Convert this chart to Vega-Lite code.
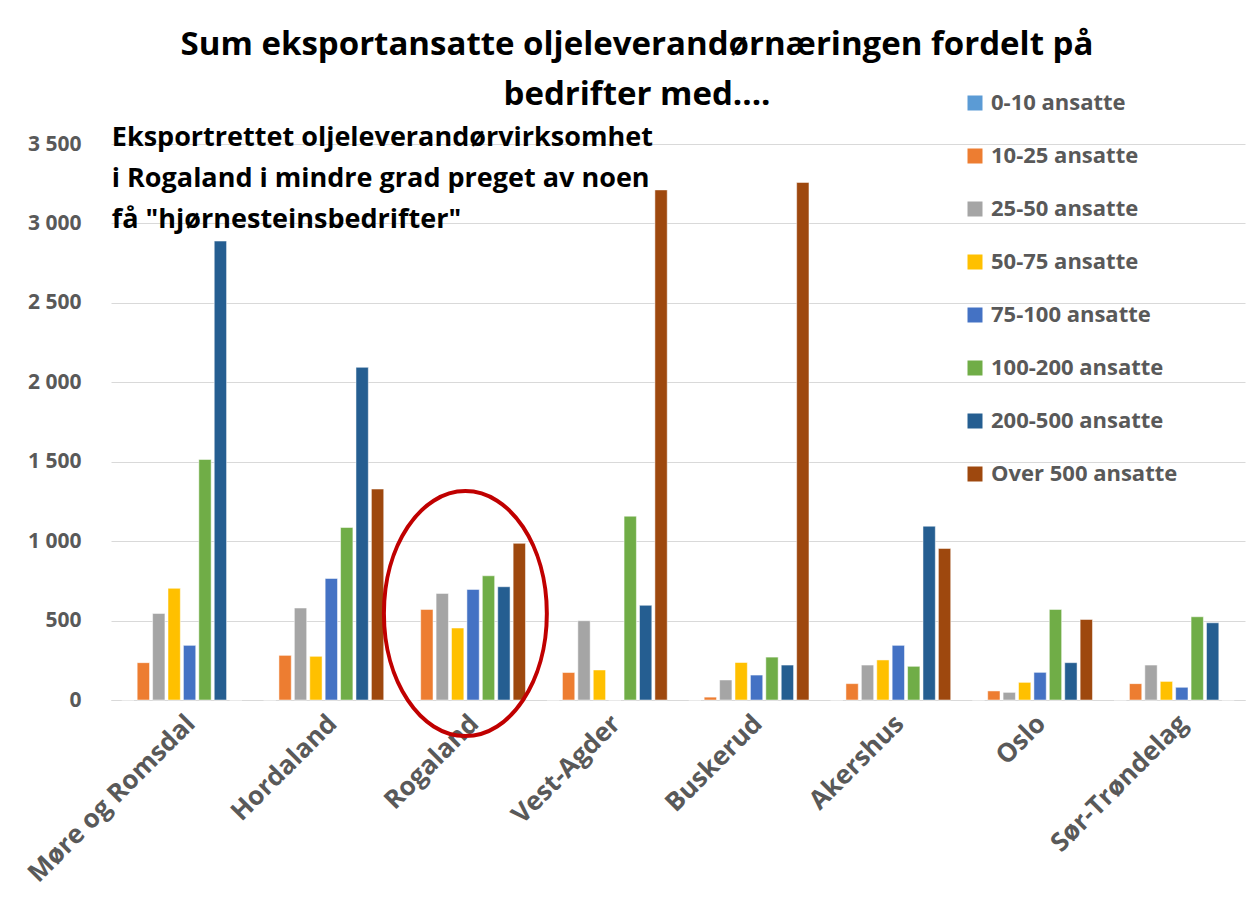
{
  "$schema": "https://vega.github.io/schema/vega-lite/v6.json",
  "width": 1134,
  "height": 556,
  "autosize": "none",
  "padding": {"left": 111, "top": 144, "right": 11, "bottom": 205},
  "background": "white",
  "config": {
    "locale": {"number": {"decimal": ",", "thousands": " ", "grouping": [3], "currency": ["", " kr"]}},
    "view": {"stroke": null},
    "font": "Open Sans"
  },
  "title": {
    "text": ["Sum eksportansatte oljeleverandørnæringen fordelt på", "bedrifter med...."],
    "font": "Open Sans",
    "fontSize": 33,
    "fontWeight": "bold",
    "color": "#000000",
    "anchor": "middle",
    "dx": -41,
    "dy": 48,
    "offset": 28,
    "lineHeight": 50
  },
  "data": {
    "values": [
      {"fylke": "Møre og Romsdal", "gruppe": "0-10 ansatte", "verdi": 0},
      {"fylke": "Møre og Romsdal", "gruppe": "10-25 ansatte", "verdi": 235},
      {"fylke": "Møre og Romsdal", "gruppe": "25-50 ansatte", "verdi": 545},
      {"fylke": "Møre og Romsdal", "gruppe": "50-75 ansatte", "verdi": 703},
      {"fylke": "Møre og Romsdal", "gruppe": "75-100 ansatte", "verdi": 344},
      {"fylke": "Møre og Romsdal", "gruppe": "100-200 ansatte", "verdi": 1514},
      {"fylke": "Møre og Romsdal", "gruppe": "200-500 ansatte", "verdi": 2889},
      {"fylke": "Møre og Romsdal", "gruppe": "Over 500 ansatte", "verdi": 0},
      {"fylke": "Hordaland", "gruppe": "0-10 ansatte", "verdi": 0},
      {"fylke": "Hordaland", "gruppe": "10-25 ansatte", "verdi": 281},
      {"fylke": "Hordaland", "gruppe": "25-50 ansatte", "verdi": 579},
      {"fylke": "Hordaland", "gruppe": "50-75 ansatte", "verdi": 275},
      {"fylke": "Hordaland", "gruppe": "75-100 ansatte", "verdi": 765},
      {"fylke": "Hordaland", "gruppe": "100-200 ansatte", "verdi": 1086},
      {"fylke": "Hordaland", "gruppe": "200-500 ansatte", "verdi": 2094},
      {"fylke": "Hordaland", "gruppe": "Over 500 ansatte", "verdi": 1328},
      {"fylke": "Rogaland", "gruppe": "0-10 ansatte", "verdi": 0},
      {"fylke": "Rogaland", "gruppe": "10-25 ansatte", "verdi": 570},
      {"fylke": "Rogaland", "gruppe": "25-50 ansatte", "verdi": 671},
      {"fylke": "Rogaland", "gruppe": "50-75 ansatte", "verdi": 453},
      {"fylke": "Rogaland", "gruppe": "75-100 ansatte", "verdi": 696},
      {"fylke": "Rogaland", "gruppe": "100-200 ansatte", "verdi": 782},
      {"fylke": "Rogaland", "gruppe": "200-500 ansatte", "verdi": 713},
      {"fylke": "Rogaland", "gruppe": "Over 500 ansatte", "verdi": 986},
      {"fylke": "Vest-Agder", "gruppe": "0-10 ansatte", "verdi": 0},
      {"fylke": "Vest-Agder", "gruppe": "10-25 ansatte", "verdi": 173},
      {"fylke": "Vest-Agder", "gruppe": "25-50 ansatte", "verdi": 499},
      {"fylke": "Vest-Agder", "gruppe": "50-75 ansatte", "verdi": 189},
      {"fylke": "Vest-Agder", "gruppe": "75-100 ansatte", "verdi": 0},
      {"fylke": "Vest-Agder", "gruppe": "100-200 ansatte", "verdi": 1157},
      {"fylke": "Vest-Agder", "gruppe": "200-500 ansatte", "verdi": 596},
      {"fylke": "Vest-Agder", "gruppe": "Over 500 ansatte", "verdi": 3211},
      {"fylke": "Buskerud", "gruppe": "0-10 ansatte", "verdi": 0},
      {"fylke": "Buskerud", "gruppe": "10-25 ansatte", "verdi": 18},
      {"fylke": "Buskerud", "gruppe": "25-50 ansatte", "verdi": 126},
      {"fylke": "Buskerud", "gruppe": "50-75 ansatte", "verdi": 236},
      {"fylke": "Buskerud", "gruppe": "75-100 ansatte", "verdi": 157},
      {"fylke": "Buskerud", "gruppe": "100-200 ansatte", "verdi": 270},
      {"fylke": "Buskerud", "gruppe": "200-500 ansatte", "verdi": 220},
      {"fylke": "Buskerud", "gruppe": "Over 500 ansatte", "verdi": 3258},
      {"fylke": "Akershus", "gruppe": "0-10 ansatte", "verdi": 0},
      {"fylke": "Akershus", "gruppe": "10-25 ansatte", "verdi": 103},
      {"fylke": "Akershus", "gruppe": "25-50 ansatte", "verdi": 220},
      {"fylke": "Akershus", "gruppe": "50-75 ansatte", "verdi": 252},
      {"fylke": "Akershus", "gruppe": "75-100 ansatte", "verdi": 344},
      {"fylke": "Akershus", "gruppe": "100-200 ansatte", "verdi": 212},
      {"fylke": "Akershus", "gruppe": "200-500 ansatte", "verdi": 1094},
      {"fylke": "Akershus", "gruppe": "Over 500 ansatte", "verdi": 954},
      {"fylke": "Oslo", "gruppe": "0-10 ansatte", "verdi": 0},
      {"fylke": "Oslo", "gruppe": "10-25 ansatte", "verdi": 57},
      {"fylke": "Oslo", "gruppe": "25-50 ansatte", "verdi": 48},
      {"fylke": "Oslo", "gruppe": "50-75 ansatte", "verdi": 111},
      {"fylke": "Oslo", "gruppe": "75-100 ansatte", "verdi": 174},
      {"fylke": "Oslo", "gruppe": "100-200 ansatte", "verdi": 570},
      {"fylke": "Oslo", "gruppe": "200-500 ansatte", "verdi": 235},
      {"fylke": "Oslo", "gruppe": "Over 500 ansatte", "verdi": 507},
      {"fylke": "Sør-Trøndelag", "gruppe": "0-10 ansatte", "verdi": 0},
      {"fylke": "Sør-Trøndelag", "gruppe": "10-25 ansatte", "verdi": 103},
      {"fylke": "Sør-Trøndelag", "gruppe": "25-50 ansatte", "verdi": 220},
      {"fylke": "Sør-Trøndelag", "gruppe": "50-75 ansatte", "verdi": 117},
      {"fylke": "Sør-Trøndelag", "gruppe": "75-100 ansatte", "verdi": 80},
      {"fylke": "Sør-Trøndelag", "gruppe": "100-200 ansatte", "verdi": 524},
      {"fylke": "Sør-Trøndelag", "gruppe": "200-500 ansatte", "verdi": 486},
      {"fylke": "Sør-Trøndelag", "gruppe": "Over 500 ansatte", "verdi": 0}
    ]
  },
  "encoding": {
    "x": {
      "field": "fylke",
      "type": "nominal",
      "sort": ["Møre og Romsdal", "Hordaland", "Rogaland", "Vest-Agder", "Buskerud", "Akershus", "Oslo", "Sør-Trøndelag"],
      "scale": {"paddingInner": 0.152, "paddingOuter": 0.076},
      "axis": {
        "title": null,
        "labelAngle": -45,
        "labelFont": "Open Sans",
        "labelFontSize": 26,
        "labelFontWeight": "bold",
        "labelColor": "#595959",
        "labelPadding": 10,
        "labelLimit": 400,
        "ticks": false,
        "domainColor": "#d9d9d9",
        "grid": false
      }
    },
    "y": {
      "field": "verdi",
      "type": "quantitative",
      "scale": {"domain": [0, 3500], "nice": false},
      "axis": {
        "title": null,
        "values": [0, 500, 1000, 1500, 2000, 2500, 3000, 3500],
        "format": ",d",
        "labelFont": "Open Sans",
        "labelFontSize": 21,
        "labelFontWeight": "bold",
        "labelColor": "#595959",
        "labelPadding": 30,
        "ticks": false,
        "domain": false,
        "gridColor": "#d9d9d9",
        "gridWidth": 1
      }
    }
  },
  "layer": [
    {
      "mark": {"type": "bar", "stroke": "white", "strokeWidth": 0.5},
      "encoding": {
        "xOffset": {
          "field": "gruppe",
          "type": "nominal",
          "sort": ["0-10 ansatte", "10-25 ansatte", "25-50 ansatte", "50-75 ansatte", "75-100 ansatte", "100-200 ansatte", "200-500 ansatte", "Over 500 ansatte"],
          "scale": {"paddingInner": 0.2, "paddingOuter": 0}
        },
        "color": {
          "field": "gruppe",
          "type": "nominal",
          "scale": {
            "domain": ["0-10 ansatte", "10-25 ansatte", "25-50 ansatte", "50-75 ansatte", "75-100 ansatte", "100-200 ansatte", "200-500 ansatte", "Over 500 ansatte"],
            "range": ["#5B9BD5", "#ED7D31", "#A5A5A5", "#FFC000", "#4472C4", "#70AD47", "#255E91", "#9E480E"]
          },
          "legend": {
            "title": null,
            "orient": "none",
            "legendX": 853,
            "legendY": -52,
            "symbolType": "square",
            "symbolSize": 225,
            "symbolStrokeWidth": 0,
            "labelFont": "Open Sans",
            "labelFontSize": 22,
            "labelFontWeight": "bold",
            "labelColor": "#595959",
            "labelOffset": 5,
            "labelLimit": 400,
            "rowPadding": 31
          }
        }
      }
    },
    {
      "data": {"values": [{"fylke": "Rogaland", "verdi": 544}]},
      "mark": {
        "type": "point",
        "shape": "M -0.665 0 A 0.665 1 0 1 0 0.665 0 A 0.665 1 0 1 0 -0.665 0 Z",
        "size": 60025,
        "filled": false,
        "color": "#C00000",
        "strokeWidth": 4,
        "opacity": 1
      }
    },
    {
      "data": {"values": [{"fylke": "Møre og Romsdal", "verdi": 3500, "note": "Eksportrettet oljeleverandørvirksomhet|i Rogaland i mindre grad preget av noen|få \"hjørnesteinsbedrifter\""}]},
      "mark": {
        "type": "text",
        "align": "left",
        "baseline": "middle",
        "lineBreak": "|",
        "lineHeight": 41,
        "font": "Open Sans",
        "fontSize": 27,
        "fontWeight": "bold",
        "color": "#000000",
        "dx": -10,
        "dy": -6
      },
      "encoding": {
        "x": {"field": "fylke", "type": "nominal", "bandPosition": 0, "sort": ["Møre og Romsdal", "Hordaland", "Rogaland", "Vest-Agder", "Buskerud", "Akershus", "Oslo", "Sør-Trøndelag"]},
        "text": {"field": "note", "type": "nominal"}
      }
    }
  ]
}
